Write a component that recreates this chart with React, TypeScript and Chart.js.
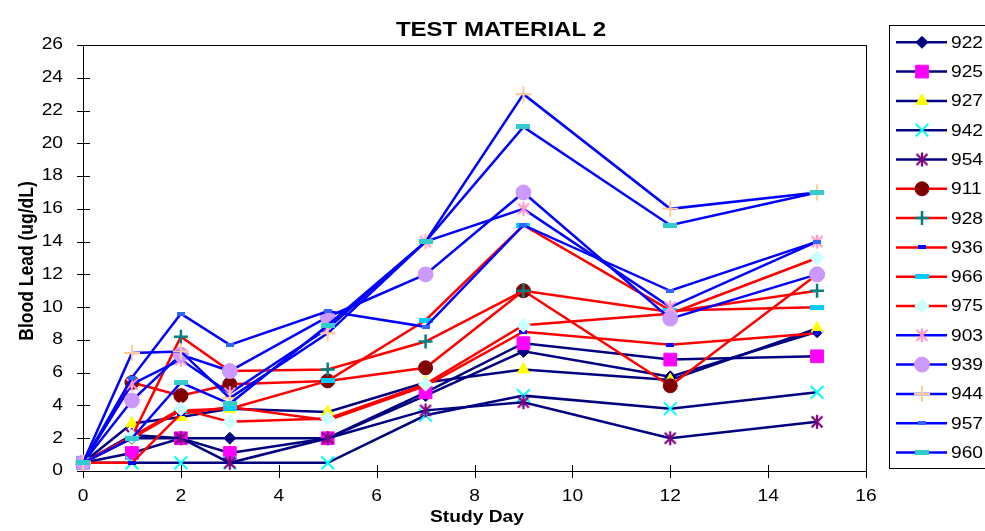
import React, { useEffect, useRef } from 'react';
import { Chart, registerables } from 'chart.js';
import { drawPoint } from 'chart.js/helpers';
Chart.register(...registerables);

// ---- data ----
const days = [0, 1, 2, 3, 5, 7, 9, 12, 15];
const seriesNames = ['922', '925', '927', '942', '954', '911', '928', '936', '966', '975', '903', '939', '944', '957', '960'];
const s922 = [0.5, 2.0, 2.0, 2.0, 2.0, 4.6, 7.3, 5.75, 8.5];
const s925 = [0.5, 1.1, 2.0, 1.1, 2.0, 4.8, 7.8, 6.8, 7.0];
const s927 = [0.5, 2.9, 3.3, 3.8, 3.6, 5.4, 6.2, 5.55, 8.7];
const s942 = [0.5, 0.5, 0.5, 0.5, 0.5, 3.4, 4.6, 3.8, 4.8];
const s954 = [0.5, 2.2, 2.0, 0.5, 2.0, 3.7, 4.2, 2.0, 3.0];
const s911 = [0.5, 5.4, 4.6, 5.3, 5.5, 6.3, 11.0, 5.2, 12.0];
const s928 = [0.5, 2.1, 8.2, 6.1, 6.2, 7.9, 11.0, 9.7, 11.0];
const s936 = [0.5, 0.5, 3.5, 3.9, 3.1, 5.2, 8.5, 7.7, 8.4];
const s966 = [0.5, 2.0, 3.7, 3.8, 5.5, 9.2, 15.0, 9.8, 10.0];
const s975 = [0.5, 2.1, 3.8, 3.0, 3.2, 5.3, 8.9, 9.6, 13.0];
const s903 = [0.5, 5.3, 6.8, 4.75, 8.7, 14.0, 16.0, 10.0, 14.0];
const s939 = [0.5, 4.3, 7.1, 6.1, 9.4, 12.0, 17.0, 9.3, 12.0];
const s944 = [0.5, 7.2, 7.3, 4.45, 8.4, 14.0, 23.0, 16.0, 17.0];
const s957 = [0.5, 5.7, 9.6, 7.7, 9.75, 8.8, 15.0, 11.0, 14.0];
const s960 = [0.5, 2.0, 5.4, 4.1, 8.9, 14.0, 21.0, 15.0, 17.0];
const seriesValues = [s922, s925, s927, s942, s954, s911, s928, s936, s966, s975, s903, s939, s944, s957, s960];

const xTicks = [0, 2, 4, 6, 8, 10, 12, 14, 16];
const yTicks = [0, 2, 4, 6, 8, 10, 12, 14, 16, 18, 20, 22, 24, 26];
const chartTitle = 'TEST MATERIAL 2';
const xTitle = 'Study Day';
const yTitle = 'Blood Lead (ug/dL)';

// ---- styles ----
const NAVY = '#000080';
const RED = '#FF0000';
const BLUE = '#0000FF';
type Sty = { line: string; kind: string; c: string; r: number; bw: number; w?: number; h?: number };
const styles: Sty[] = [
  { line: NAVY, kind: 'rectRot', c: '#000080', r: 6, bw: 1 },
  { line: NAVY, kind: 'rect', c: '#FF00FF', r: 9, bw: 1 },
  { line: NAVY, kind: 'triangle', c: '#FFFF00', r: 7, bw: 1 },
  { line: NAVY, kind: 'crossRot', c: '#00FFFF', r: 9, bw: 2 },
  { line: NAVY, kind: 'aster', c: '#800080', r: 7, bw: 2 },
  { line: RED, kind: 'circle', c: '#800000', r: 7, bw: 1 },
  { line: RED, kind: 'cross', c: '#008080', r: 7, bw: 2.5 },
  { line: RED, kind: 'dash', c: '#0000FF', r: 4, bw: 0, w: 8, h: 4 },
  { line: RED, kind: 'dash', c: '#00CCFF', r: 7, bw: 0, w: 14, h: 5 },
  { line: RED, kind: 'rectRot', c: '#CCFFFF', r: 7, bw: 1 },
  { line: BLUE, kind: 'aster', c: '#FF99CC', r: 7, bw: 2 },
  { line: BLUE, kind: 'circle', c: '#CC99FF', r: 7.5, bw: 1 },
  { line: BLUE, kind: 'cross', c: '#FFCC99', r: 8, bw: 2 },
  { line: BLUE, kind: 'dash', c: '#3366FF', r: 4, bw: 0, w: 8, h: 4 },
  { line: BLUE, kind: 'dash', c: '#33CCCC', r: 7, bw: 0, w: 14, h: 5 },
];

const FONT = '"Liberation Sans", Arial, sans-serif';
const SX = 1.2;

function makeMarker(s: Sty): any {
  if (s.kind === 'dash') {
    const cv = document.createElement('canvas');
    cv.width = s.w!; cv.height = s.h!;
    const c = cv.getContext('2d')!;
    c.fillStyle = s.c; c.fillRect(0, 0, s.w!, s.h!);
    return cv;
  }
  if (s.kind === 'aster') {
    const n = 16;
    const cv = document.createElement('canvas');
    cv.width = n; cv.height = n;
    const c = cv.getContext('2d')!;
    c.strokeStyle = s.c; c.lineWidth = 2.2;
    c.beginPath();
    c.moveTo(2.5, 2.5); c.lineTo(13.5, 13.5);
    c.moveTo(13.5, 2.5); c.lineTo(2.5, 13.5);
    c.moveTo(8, 1); c.lineTo(8, 15);
    c.stroke();
    return cv;
  }
  return s.kind;
}

function drawText(ctx: CanvasRenderingContext2D, str: string, x: number, y: number, font: string, align: CanvasTextAlign, rot = 0) {
  ctx.save();
  ctx.translate(x, y);
  ctx.scale(SX, 1);
  if (rot) ctx.rotate(rot);
  ctx.font = font;
  ctx.textAlign = align;
  ctx.textBaseline = 'middle';
  ctx.fillStyle = '#000';
  ctx.fillText(str, 0, 0);
  ctx.restore();
}

export default function App() {
  const ref = useRef<HTMLCanvasElement>(null);
  useEffect(() => {
    const markers = styles.map(makeMarker);
    const datasets = seriesValues.map((vals, i) => ({
      label: seriesNames[i],
      data: vals.map((v, k) => ({ x: days[k], y: v })),
      borderColor: styles[i].line,
      borderWidth: 2.5,
      pointStyle: markers[i],
      pointRadius: styles[i].r,
      pointHoverRadius: styles[i].r,
      pointBackgroundColor: styles[i].c,
      pointBorderColor: styles[i].c,
      pointBorderWidth: styles[i].bw,
      tension: 0,
      clip: false as any,
      order: -i,
    }));

    const decor = {
      id: 'decor',
      beforeDatasetsDraw(chart: any) {
        const { ctx, chartArea: a, scales } = chart;
        const xs = scales.x, ys = scales.y;
        ctx.save();
        ctx.strokeStyle = '#000';
        ctx.lineWidth = 1;
        ctx.strokeRect(Math.round(a.left) + 0.5, Math.round(a.top) + 0.5, Math.round(a.right - a.left), Math.round(a.bottom - a.top));
        ctx.beginPath();
        for (const v of yTicks) {
          const py = Math.round(ys.getPixelForValue(v)) + 0.5;
          ctx.moveTo(a.left - 6, py); ctx.lineTo(a.left + 7, py);
        }
        for (const v of xTicks) {
          const px = Math.round(xs.getPixelForValue(v)) + 0.5;
          ctx.moveTo(px, a.bottom - 6); ctx.lineTo(px, a.bottom + 7);
        }
        ctx.stroke();
        ctx.restore();
      },
      afterDraw(chart: any) {
        const { ctx, chartArea: a, scales } = chart;
        const xs = scales.x, ys = scales.y;
        const tf = `16px ${FONT}`;
        for (const v of yTicks) drawText(ctx, String(v), 63, ys.getPixelForValue(v), tf, 'right');
        for (const v of xTicks) drawText(ctx, String(v), xs.getPixelForValue(v), 497, tf, 'center');
        drawText(ctx, chartTitle, 501, 30, `bold 20px ${FONT}`, 'center');
        drawText(ctx, xTitle, 477, 518, `bold 16px ${FONT}`, 'center');
        drawText(ctx, yTitle, 27, (a.top + a.bottom) / 2 + 3, `bold 17.5px ${FONT}`, 'center', -Math.PI / 2);

        // legend
        ctx.save();
        ctx.strokeStyle = '#000';
        ctx.lineWidth = 1;
        ctx.strokeRect(889.5, 25.5, 200, 443);
        ctx.restore();
        for (let i = 0; i < seriesNames.length; i++) {
          const y = 42.3 + i * 29.3;
          const s = styles[i];
          ctx.save();
          ctx.strokeStyle = s.line;
          ctx.lineWidth = 2.5;
          ctx.beginPath();
          ctx.moveTo(896, y); ctx.lineTo(947, y);
          ctx.stroke();
          ctx.fillStyle = s.c;
          ctx.strokeStyle = s.c;
          ctx.lineWidth = s.bw;
          drawPoint(ctx, { pointStyle: markers[i], rotation: 0, radius: s.r, borderWidth: s.bw } as any, 922, y);
          ctx.restore();
          drawText(ctx, seriesNames[i], 951, y + 1, tf, 'left');
        }
      },
    };

    const chart = new Chart(ref.current!, {
      type: 'line',
      data: { datasets: datasets as any },
      options: {
        responsive: false,
        animation: false,
        layout: { padding: { top: 45, right: 119, bottom: 0, left: 0 } },
        plugins: { legend: { display: false }, title: { display: false }, tooltip: { enabled: false } },
        scales: {
          x: {
            type: 'linear', min: 0, max: 16,
            ticks: { display: false, stepSize: 2 },
            grid: { display: false },
            border: { display: false },
            afterFit: (s: any) => { s.height = 60; },
          },
          y: {
            type: 'linear', min: 0, max: 26,
            ticks: { display: false, stepSize: 2 },
            grid: { display: false },
            border: { display: false },
            afterFit: (s: any) => { s.width = 83; },
          },
        },
      },
      plugins: [decor],
    });
    return () => chart.destroy();
  }, []);
  return (
    <div style={{ position: 'fixed', left: 0, top: 0, width: 985, height: 531, background: '#fff' }}>
      <canvas ref={ref} width={985} height={531} style={{ display: 'block' }} />
    </div>
  );
}
